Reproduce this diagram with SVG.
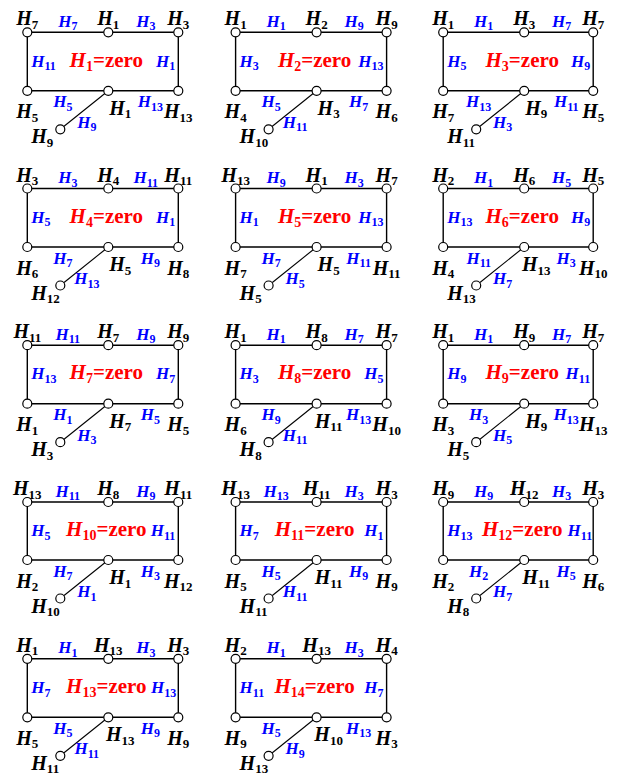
<svg xmlns="http://www.w3.org/2000/svg" width="618" height="781" viewBox="0 0 618 781">
<style>
text{font-family:"Liberation Serif","Times New Roman",serif;font-weight:bold;font-style:italic}
.n{font-size:20px;fill:#000;text-anchor:middle}
.ns{text-anchor:start}
.e{font-size:17px;fill:#0000ff;text-anchor:middle}
.el{text-anchor:start}
.er{text-anchor:end}
.c{font-size:21px;fill:#ff0000;text-anchor:middle}
.s{font-size:13px;font-style:normal}
.e .s{font-size:12px}
.c .s{font-size:14px}
.z{font-style:normal}
.rect{fill:none;stroke:#000;stroke-width:1.4}
.pl{stroke:#000;stroke-width:1.1}
circle{fill:#fff;stroke:#000;stroke-width:1.2}
</style>
<rect width="618" height="781" fill="#fff"/>

<!-- Panel 1 -->
<g id="panel1" transform="translate(27.3,32.3)">
<g id="p1-connectors"><path class="rect" d="M0,0H151V58.5H0Z"/><line class="pl" x1="81" y1="58.5" x2="33" y2="97"/>
<text class="e" x="40.5" y="-5.5">H<tspan class="s" dy="3.5">7</tspan></text><text class="e" x="118.5" y="-5.5">H<tspan class="s" dy="3.5">3</tspan></text>
<text class="e el" x="4" y="34.3">H<tspan class="s" dy="3.5">11</tspan></text><text class="e er" x="148" y="34.3">H<tspan class="s" dy="3.5">1</tspan></text>
<text class="e" x="35.5" y="75">H<tspan class="s" dy="3.5">5</tspan></text><text class="e" x="123" y="75">H<tspan class="s" dy="3.5">13</tspan></text>
<text class="e" x="59.5" y="95.5">H<tspan class="s" dy="3.5">9</tspan></text></g>
<g id="p1-n1"><circle cx="0" cy="0" r="4.5"/><text class="n" x="0" y="-7">H<tspan class="s" dy="3.5">7</tspan></text></g>
<g id="p1-n2"><circle cx="81" cy="0" r="4.5"/><text class="n" x="81" y="-7">H<tspan class="s" dy="3.5">1</tspan></text></g>
<g id="p1-n3"><circle cx="151" cy="0" r="4.5"/><text class="n" x="151" y="-7">H<tspan class="s" dy="3.5">3</tspan></text></g>
<g id="p1-n4"><circle cx="0" cy="58.5" r="4.5"/><text class="n" x="0" y="86">H<tspan class="s" dy="3.5">5</tspan></text></g>
<g id="p1-n5"><circle cx="81" cy="58.5" r="4.5"/><text class="n" x="93" y="82.5">H<tspan class="s" dy="3.5">1</tspan></text></g>
<g id="p1-n6"><circle cx="151" cy="58.5" r="4.5"/><text class="n" x="151" y="86">H<tspan class="s" dy="3.5">13</tspan></text></g>
<g id="p1-n7"><circle cx="33" cy="97" r="4.5"/><text class="n ns" x="4" y="111">H<tspan class="s" dy="3.5">9</tspan></text></g>
<text class="c" x="79" y="34.3">H<tspan class="s" dy="4">1</tspan><tspan class="z" dy="-4">=zero</tspan></text>
</g>

<!-- Panel 2 -->
<g id="panel2" transform="translate(235.6,32.3)">
<g id="p2-connectors"><path class="rect" d="M0,0H151V58.5H0Z"/><line class="pl" x1="81" y1="58.5" x2="33" y2="97"/>
<text class="e" x="40.5" y="-5.5">H<tspan class="s" dy="3.5">1</tspan></text><text class="e" x="118.5" y="-5.5">H<tspan class="s" dy="3.5">9</tspan></text>
<text class="e el" x="4" y="34.3">H<tspan class="s" dy="3.5">3</tspan></text><text class="e er" x="148" y="34.3">H<tspan class="s" dy="3.5">13</tspan></text>
<text class="e" x="35.5" y="75">H<tspan class="s" dy="3.5">5</tspan></text><text class="e" x="123" y="75">H<tspan class="s" dy="3.5">7</tspan></text>
<text class="e" x="59.5" y="95.5">H<tspan class="s" dy="3.5">11</tspan></text></g>
<g id="p2-n1"><circle cx="0" cy="0" r="4.5"/><text class="n" x="0" y="-7">H<tspan class="s" dy="3.5">1</tspan></text></g>
<g id="p2-n2"><circle cx="81" cy="0" r="4.5"/><text class="n" x="81" y="-7">H<tspan class="s" dy="3.5">2</tspan></text></g>
<g id="p2-n3"><circle cx="151" cy="0" r="4.5"/><text class="n" x="151" y="-7">H<tspan class="s" dy="3.5">9</tspan></text></g>
<g id="p2-n4"><circle cx="0" cy="58.5" r="4.5"/><text class="n" x="0" y="86">H<tspan class="s" dy="3.5">4</tspan></text></g>
<g id="p2-n5"><circle cx="81" cy="58.5" r="4.5"/><text class="n" x="93" y="82.5">H<tspan class="s" dy="3.5">3</tspan></text></g>
<g id="p2-n6"><circle cx="151" cy="58.5" r="4.5"/><text class="n" x="151" y="86">H<tspan class="s" dy="3.5">6</tspan></text></g>
<g id="p2-n7"><circle cx="33" cy="97" r="4.5"/><text class="n ns" x="4" y="111">H<tspan class="s" dy="3.5">10</tspan></text></g>
<text class="c" x="79" y="34.3">H<tspan class="s" dy="4">2</tspan><tspan class="z" dy="-4">=zero</tspan></text>
</g>

<!-- Panel 3 -->
<g id="panel3" transform="translate(443.2,32.3)">
<g id="p3-connectors"><path class="rect" d="M0,0H150V58.5H0Z"/><line class="pl" x1="81" y1="58.5" x2="33" y2="97"/>
<text class="e" x="40.5" y="-5.5">H<tspan class="s" dy="3.5">1</tspan></text><text class="e" x="118.5" y="-5.5">H<tspan class="s" dy="3.5">7</tspan></text>
<text class="e el" x="4" y="34.3">H<tspan class="s" dy="3.5">5</tspan></text><text class="e er" x="147" y="34.3">H<tspan class="s" dy="3.5">9</tspan></text>
<text class="e" x="35.5" y="75">H<tspan class="s" dy="3.5">13</tspan></text><text class="e" x="123" y="75">H<tspan class="s" dy="3.5">11</tspan></text>
<text class="e" x="59.5" y="95.5">H<tspan class="s" dy="3.5">3</tspan></text></g>
<g id="p3-n1"><circle cx="0" cy="0" r="4.5"/><text class="n" x="0" y="-7">H<tspan class="s" dy="3.5">1</tspan></text></g>
<g id="p3-n2"><circle cx="81" cy="0" r="4.5"/><text class="n" x="81" y="-7">H<tspan class="s" dy="3.5">3</tspan></text></g>
<g id="p3-n3"><circle cx="150" cy="0" r="4.5"/><text class="n" x="150" y="-7">H<tspan class="s" dy="3.5">7</tspan></text></g>
<g id="p3-n4"><circle cx="0" cy="58.5" r="4.5"/><text class="n" x="0" y="86">H<tspan class="s" dy="3.5">7</tspan></text></g>
<g id="p3-n5"><circle cx="81" cy="58.5" r="4.5"/><text class="n" x="93" y="82.5">H<tspan class="s" dy="3.5">9</tspan></text></g>
<g id="p3-n6"><circle cx="150" cy="58.5" r="4.5"/><text class="n" x="150" y="86">H<tspan class="s" dy="3.5">5</tspan></text></g>
<g id="p3-n7"><circle cx="33" cy="97" r="4.5"/><text class="n ns" x="4" y="111">H<tspan class="s" dy="3.5">11</tspan></text></g>
<text class="c" x="79" y="34.3">H<tspan class="s" dy="4">3</tspan><tspan class="z" dy="-4">=zero</tspan></text>
</g>

<!-- Panel 4 -->
<g id="panel4" transform="translate(27.3,188.5)">
<g id="p4-connectors"><path class="rect" d="M0,0H151V58.5H0Z"/><line class="pl" x1="81" y1="58.5" x2="33" y2="97"/>
<text class="e" x="40.5" y="-5.5">H<tspan class="s" dy="3.5">3</tspan></text><text class="e" x="118.5" y="-5.5">H<tspan class="s" dy="3.5">11</tspan></text>
<text class="e el" x="4" y="34.3">H<tspan class="s" dy="3.5">5</tspan></text><text class="e er" x="148" y="34.3">H<tspan class="s" dy="3.5">1</tspan></text>
<text class="e" x="35.5" y="75">H<tspan class="s" dy="3.5">7</tspan></text><text class="e" x="123" y="75">H<tspan class="s" dy="3.5">9</tspan></text>
<text class="e" x="59.5" y="95.5">H<tspan class="s" dy="3.5">13</tspan></text></g>
<g id="p4-n1"><circle cx="0" cy="0" r="4.5"/><text class="n" x="0" y="-7">H<tspan class="s" dy="3.5">3</tspan></text></g>
<g id="p4-n2"><circle cx="81" cy="0" r="4.5"/><text class="n" x="81" y="-7">H<tspan class="s" dy="3.5">4</tspan></text></g>
<g id="p4-n3"><circle cx="151" cy="0" r="4.5"/><text class="n" x="151" y="-7">H<tspan class="s" dy="3.5">11</tspan></text></g>
<g id="p4-n4"><circle cx="0" cy="58.5" r="4.5"/><text class="n" x="0" y="86">H<tspan class="s" dy="3.5">6</tspan></text></g>
<g id="p4-n5"><circle cx="81" cy="58.5" r="4.5"/><text class="n" x="93" y="82.5">H<tspan class="s" dy="3.5">5</tspan></text></g>
<g id="p4-n6"><circle cx="151" cy="58.5" r="4.5"/><text class="n" x="151" y="86">H<tspan class="s" dy="3.5">8</tspan></text></g>
<g id="p4-n7"><circle cx="33" cy="97" r="4.5"/><text class="n ns" x="4" y="111">H<tspan class="s" dy="3.5">12</tspan></text></g>
<text class="c" x="79" y="34.3">H<tspan class="s" dy="4">4</tspan><tspan class="z" dy="-4">=zero</tspan></text>
</g>

<!-- Panel 5 -->
<g id="panel5" transform="translate(235.6,188.5)">
<g id="p5-connectors"><path class="rect" d="M0,0H151V58.5H0Z"/><line class="pl" x1="81" y1="58.5" x2="33" y2="97"/>
<text class="e" x="40.5" y="-5.5">H<tspan class="s" dy="3.5">9</tspan></text><text class="e" x="118.5" y="-5.5">H<tspan class="s" dy="3.5">3</tspan></text>
<text class="e el" x="4" y="34.3">H<tspan class="s" dy="3.5">1</tspan></text><text class="e er" x="148" y="34.3">H<tspan class="s" dy="3.5">13</tspan></text>
<text class="e" x="35.5" y="75">H<tspan class="s" dy="3.5">7</tspan></text><text class="e" x="123" y="75">H<tspan class="s" dy="3.5">11</tspan></text>
<text class="e" x="59.5" y="95.5">H<tspan class="s" dy="3.5">5</tspan></text></g>
<g id="p5-n1"><circle cx="0" cy="0" r="4.5"/><text class="n" x="0" y="-7">H<tspan class="s" dy="3.5">13</tspan></text></g>
<g id="p5-n2"><circle cx="81" cy="0" r="4.5"/><text class="n" x="81" y="-7">H<tspan class="s" dy="3.5">1</tspan></text></g>
<g id="p5-n3"><circle cx="151" cy="0" r="4.5"/><text class="n" x="151" y="-7">H<tspan class="s" dy="3.5">7</tspan></text></g>
<g id="p5-n4"><circle cx="0" cy="58.5" r="4.5"/><text class="n" x="0" y="86">H<tspan class="s" dy="3.5">7</tspan></text></g>
<g id="p5-n5"><circle cx="81" cy="58.5" r="4.5"/><text class="n" x="93" y="82.5">H<tspan class="s" dy="3.5">5</tspan></text></g>
<g id="p5-n6"><circle cx="151" cy="58.5" r="4.5"/><text class="n" x="151" y="86">H<tspan class="s" dy="3.5">11</tspan></text></g>
<g id="p5-n7"><circle cx="33" cy="97" r="4.5"/><text class="n ns" x="4" y="111">H<tspan class="s" dy="3.5">5</tspan></text></g>
<text class="c" x="79" y="34.3">H<tspan class="s" dy="4">5</tspan><tspan class="z" dy="-4">=zero</tspan></text>
</g>

<!-- Panel 6 -->
<g id="panel6" transform="translate(443.2,188.5)">
<g id="p6-connectors"><path class="rect" d="M0,0H150V58.5H0Z"/><line class="pl" x1="81" y1="58.5" x2="33" y2="97"/>
<text class="e" x="40.5" y="-5.5">H<tspan class="s" dy="3.5">1</tspan></text><text class="e" x="118.5" y="-5.5">H<tspan class="s" dy="3.5">5</tspan></text>
<text class="e el" x="4" y="34.3">H<tspan class="s" dy="3.5">13</tspan></text><text class="e er" x="147" y="34.3">H<tspan class="s" dy="3.5">9</tspan></text>
<text class="e" x="35.5" y="75">H<tspan class="s" dy="3.5">11</tspan></text><text class="e" x="123" y="75">H<tspan class="s" dy="3.5">3</tspan></text>
<text class="e" x="59.5" y="95.5">H<tspan class="s" dy="3.5">7</tspan></text></g>
<g id="p6-n1"><circle cx="0" cy="0" r="4.5"/><text class="n" x="0" y="-7">H<tspan class="s" dy="3.5">2</tspan></text></g>
<g id="p6-n2"><circle cx="81" cy="0" r="4.5"/><text class="n" x="81" y="-7">H<tspan class="s" dy="3.5">6</tspan></text></g>
<g id="p6-n3"><circle cx="150" cy="0" r="4.5"/><text class="n" x="150" y="-7">H<tspan class="s" dy="3.5">5</tspan></text></g>
<g id="p6-n4"><circle cx="0" cy="58.5" r="4.5"/><text class="n" x="0" y="86">H<tspan class="s" dy="3.5">4</tspan></text></g>
<g id="p6-n5"><circle cx="81" cy="58.5" r="4.5"/><text class="n" x="93" y="82.5">H<tspan class="s" dy="3.5">13</tspan></text></g>
<g id="p6-n6"><circle cx="150" cy="58.5" r="4.5"/><text class="n" x="150" y="86">H<tspan class="s" dy="3.5">10</tspan></text></g>
<g id="p6-n7"><circle cx="33" cy="97" r="4.5"/><text class="n ns" x="4" y="111">H<tspan class="s" dy="3.5">13</tspan></text></g>
<text class="c" x="79" y="34.3">H<tspan class="s" dy="4">6</tspan><tspan class="z" dy="-4">=zero</tspan></text>
</g>

<!-- Panel 7 -->
<g id="panel7" transform="translate(27.3,345.2)">
<g id="p7-connectors"><path class="rect" d="M0,0H151V58.5H0Z"/><line class="pl" x1="81" y1="58.5" x2="33" y2="97"/>
<text class="e" x="40.5" y="-5.5">H<tspan class="s" dy="3.5">11</tspan></text><text class="e" x="118.5" y="-5.5">H<tspan class="s" dy="3.5">9</tspan></text>
<text class="e el" x="4" y="34.3">H<tspan class="s" dy="3.5">13</tspan></text><text class="e er" x="148" y="34.3">H<tspan class="s" dy="3.5">7</tspan></text>
<text class="e" x="35.5" y="75">H<tspan class="s" dy="3.5">1</tspan></text><text class="e" x="123" y="75">H<tspan class="s" dy="3.5">5</tspan></text>
<text class="e" x="59.5" y="95.5">H<tspan class="s" dy="3.5">3</tspan></text></g>
<g id="p7-n1"><circle cx="0" cy="0" r="4.5"/><text class="n" x="0" y="-7">H<tspan class="s" dy="3.5">11</tspan></text></g>
<g id="p7-n2"><circle cx="81" cy="0" r="4.5"/><text class="n" x="81" y="-7">H<tspan class="s" dy="3.5">7</tspan></text></g>
<g id="p7-n3"><circle cx="151" cy="0" r="4.5"/><text class="n" x="151" y="-7">H<tspan class="s" dy="3.5">9</tspan></text></g>
<g id="p7-n4"><circle cx="0" cy="58.5" r="4.5"/><text class="n" x="0" y="86">H<tspan class="s" dy="3.5">1</tspan></text></g>
<g id="p7-n5"><circle cx="81" cy="58.5" r="4.5"/><text class="n" x="93" y="82.5">H<tspan class="s" dy="3.5">7</tspan></text></g>
<g id="p7-n6"><circle cx="151" cy="58.5" r="4.5"/><text class="n" x="151" y="86">H<tspan class="s" dy="3.5">5</tspan></text></g>
<g id="p7-n7"><circle cx="33" cy="97" r="4.5"/><text class="n ns" x="4" y="111">H<tspan class="s" dy="3.5">3</tspan></text></g>
<text class="c" x="79" y="34.3">H<tspan class="s" dy="4">7</tspan><tspan class="z" dy="-4">=zero</tspan></text>
</g>

<!-- Panel 8 -->
<g id="panel8" transform="translate(235.6,345.2)">
<g id="p8-connectors"><path class="rect" d="M0,0H151V58.5H0Z"/><line class="pl" x1="81" y1="58.5" x2="33" y2="97"/>
<text class="e" x="40.5" y="-5.5">H<tspan class="s" dy="3.5">1</tspan></text><text class="e" x="118.5" y="-5.5">H<tspan class="s" dy="3.5">7</tspan></text>
<text class="e el" x="4" y="34.3">H<tspan class="s" dy="3.5">3</tspan></text><text class="e er" x="148" y="34.3">H<tspan class="s" dy="3.5">5</tspan></text>
<text class="e" x="35.5" y="75">H<tspan class="s" dy="3.5">9</tspan></text><text class="e" x="123" y="75">H<tspan class="s" dy="3.5">13</tspan></text>
<text class="e" x="59.5" y="95.5">H<tspan class="s" dy="3.5">11</tspan></text></g>
<g id="p8-n1"><circle cx="0" cy="0" r="4.5"/><text class="n" x="0" y="-7">H<tspan class="s" dy="3.5">1</tspan></text></g>
<g id="p8-n2"><circle cx="81" cy="0" r="4.5"/><text class="n" x="81" y="-7">H<tspan class="s" dy="3.5">8</tspan></text></g>
<g id="p8-n3"><circle cx="151" cy="0" r="4.5"/><text class="n" x="151" y="-7">H<tspan class="s" dy="3.5">7</tspan></text></g>
<g id="p8-n4"><circle cx="0" cy="58.5" r="4.5"/><text class="n" x="0" y="86">H<tspan class="s" dy="3.5">6</tspan></text></g>
<g id="p8-n5"><circle cx="81" cy="58.5" r="4.5"/><text class="n" x="93" y="82.5">H<tspan class="s" dy="3.5">11</tspan></text></g>
<g id="p8-n6"><circle cx="151" cy="58.5" r="4.5"/><text class="n" x="151" y="86">H<tspan class="s" dy="3.5">10</tspan></text></g>
<g id="p8-n7"><circle cx="33" cy="97" r="4.5"/><text class="n ns" x="4" y="111">H<tspan class="s" dy="3.5">8</tspan></text></g>
<text class="c" x="79" y="34.3">H<tspan class="s" dy="4">8</tspan><tspan class="z" dy="-4">=zero</tspan></text>
</g>

<!-- Panel 9 -->
<g id="panel9" transform="translate(443.2,345.2)">
<g id="p9-connectors"><path class="rect" d="M0,0H150V58.5H0Z"/><line class="pl" x1="81" y1="58.5" x2="33" y2="97"/>
<text class="e" x="40.5" y="-5.5">H<tspan class="s" dy="3.5">1</tspan></text><text class="e" x="118.5" y="-5.5">H<tspan class="s" dy="3.5">7</tspan></text>
<text class="e el" x="4" y="34.3">H<tspan class="s" dy="3.5">9</tspan></text><text class="e er" x="147" y="34.3">H<tspan class="s" dy="3.5">11</tspan></text>
<text class="e" x="35.5" y="75">H<tspan class="s" dy="3.5">3</tspan></text><text class="e" x="123" y="75">H<tspan class="s" dy="3.5">13</tspan></text>
<text class="e" x="59.5" y="95.5">H<tspan class="s" dy="3.5">5</tspan></text></g>
<g id="p9-n1"><circle cx="0" cy="0" r="4.5"/><text class="n" x="0" y="-7">H<tspan class="s" dy="3.5">1</tspan></text></g>
<g id="p9-n2"><circle cx="81" cy="0" r="4.5"/><text class="n" x="81" y="-7">H<tspan class="s" dy="3.5">9</tspan></text></g>
<g id="p9-n3"><circle cx="150" cy="0" r="4.5"/><text class="n" x="150" y="-7">H<tspan class="s" dy="3.5">7</tspan></text></g>
<g id="p9-n4"><circle cx="0" cy="58.5" r="4.5"/><text class="n" x="0" y="86">H<tspan class="s" dy="3.5">3</tspan></text></g>
<g id="p9-n5"><circle cx="81" cy="58.5" r="4.5"/><text class="n" x="93" y="82.5">H<tspan class="s" dy="3.5">9</tspan></text></g>
<g id="p9-n6"><circle cx="150" cy="58.5" r="4.5"/><text class="n" x="150" y="86">H<tspan class="s" dy="3.5">13</tspan></text></g>
<g id="p9-n7"><circle cx="33" cy="97" r="4.5"/><text class="n ns" x="4" y="111">H<tspan class="s" dy="3.5">5</tspan></text></g>
<text class="c" x="79" y="34.3">H<tspan class="s" dy="4">9</tspan><tspan class="z" dy="-4">=zero</tspan></text>
</g>

<!-- Panel 10 -->
<g id="panel10" transform="translate(27.3,502)">
<g id="p10-connectors"><path class="rect" d="M0,0H151V58H0Z"/><line class="pl" x1="81" y1="58" x2="33" y2="96.5"/>
<text class="e" x="40.5" y="-5.5">H<tspan class="s" dy="3.5">11</tspan></text><text class="e" x="118.5" y="-5.5">H<tspan class="s" dy="3.5">9</tspan></text>
<text class="e el" x="4" y="34">H<tspan class="s" dy="3.5">5</tspan></text><text class="e er" x="148" y="34">H<tspan class="s" dy="3.5">11</tspan></text>
<text class="e" x="35.5" y="74.5">H<tspan class="s" dy="3.5">7</tspan></text><text class="e" x="123" y="74.5">H<tspan class="s" dy="3.5">3</tspan></text>
<text class="e" x="59.5" y="95">H<tspan class="s" dy="3.5">1</tspan></text></g>
<g id="p10-n1"><circle cx="0" cy="0" r="4.5"/><text class="n" x="0" y="-7">H<tspan class="s" dy="3.5">13</tspan></text></g>
<g id="p10-n2"><circle cx="81" cy="0" r="4.5"/><text class="n" x="81" y="-7">H<tspan class="s" dy="3.5">8</tspan></text></g>
<g id="p10-n3"><circle cx="151" cy="0" r="4.5"/><text class="n" x="151" y="-7">H<tspan class="s" dy="3.5">11</tspan></text></g>
<g id="p10-n4"><circle cx="0" cy="58" r="4.5"/><text class="n" x="0" y="85.5">H<tspan class="s" dy="3.5">2</tspan></text></g>
<g id="p10-n5"><circle cx="81" cy="58" r="4.5"/><text class="n" x="93" y="82">H<tspan class="s" dy="3.5">1</tspan></text></g>
<g id="p10-n6"><circle cx="151" cy="58" r="4.5"/><text class="n" x="151" y="85.5">H<tspan class="s" dy="3.5">12</tspan></text></g>
<g id="p10-n7"><circle cx="33" cy="96.5" r="4.5"/><text class="n ns" x="4" y="110.5">H<tspan class="s" dy="3.5">10</tspan></text></g>
<text class="c" x="79" y="34">H<tspan class="s" dy="4">10</tspan><tspan class="z" dy="-4">=zero</tspan></text>
</g>

<!-- Panel 11 -->
<g id="panel11" transform="translate(235.6,502)">
<g id="p11-connectors"><path class="rect" d="M0,0H151V58H0Z"/><line class="pl" x1="81" y1="58" x2="33" y2="96.5"/>
<text class="e" x="40.5" y="-5.5">H<tspan class="s" dy="3.5">13</tspan></text><text class="e" x="118.5" y="-5.5">H<tspan class="s" dy="3.5">3</tspan></text>
<text class="e el" x="4" y="34">H<tspan class="s" dy="3.5">7</tspan></text><text class="e er" x="148" y="34">H<tspan class="s" dy="3.5">1</tspan></text>
<text class="e" x="35.5" y="74.5">H<tspan class="s" dy="3.5">5</tspan></text><text class="e" x="123" y="74.5">H<tspan class="s" dy="3.5">9</tspan></text>
<text class="e" x="59.5" y="95">H<tspan class="s" dy="3.5">11</tspan></text></g>
<g id="p11-n1"><circle cx="0" cy="0" r="4.5"/><text class="n" x="0" y="-7">H<tspan class="s" dy="3.5">13</tspan></text></g>
<g id="p11-n2"><circle cx="81" cy="0" r="4.5"/><text class="n" x="81" y="-7">H<tspan class="s" dy="3.5">11</tspan></text></g>
<g id="p11-n3"><circle cx="151" cy="0" r="4.5"/><text class="n" x="151" y="-7">H<tspan class="s" dy="3.5">3</tspan></text></g>
<g id="p11-n4"><circle cx="0" cy="58" r="4.5"/><text class="n" x="0" y="85.5">H<tspan class="s" dy="3.5">5</tspan></text></g>
<g id="p11-n5"><circle cx="81" cy="58" r="4.5"/><text class="n" x="93" y="82">H<tspan class="s" dy="3.5">11</tspan></text></g>
<g id="p11-n6"><circle cx="151" cy="58" r="4.5"/><text class="n" x="151" y="85.5">H<tspan class="s" dy="3.5">9</tspan></text></g>
<g id="p11-n7"><circle cx="33" cy="96.5" r="4.5"/><text class="n ns" x="4" y="110.5">H<tspan class="s" dy="3.5">11</tspan></text></g>
<text class="c" x="79" y="34">H<tspan class="s" dy="4">11</tspan><tspan class="z" dy="-4">=zero</tspan></text>
</g>

<!-- Panel 12 -->
<g id="panel12" transform="translate(443.2,502)">
<g id="p12-connectors"><path class="rect" d="M0,0H150V58H0Z"/><line class="pl" x1="81" y1="58" x2="33" y2="96.5"/>
<text class="e" x="40.5" y="-5.5">H<tspan class="s" dy="3.5">9</tspan></text><text class="e" x="118.5" y="-5.5">H<tspan class="s" dy="3.5">3</tspan></text>
<text class="e el" x="4" y="34">H<tspan class="s" dy="3.5">13</tspan></text><text class="e er" x="149" y="34">H<tspan class="s" dy="3.5">11</tspan></text>
<text class="e" x="35.5" y="74.5">H<tspan class="s" dy="3.5">2</tspan></text><text class="e" x="123" y="74.5">H<tspan class="s" dy="3.5">5</tspan></text>
<text class="e" x="59.5" y="95">H<tspan class="s" dy="3.5">7</tspan></text></g>
<g id="p12-n1"><circle cx="0" cy="0" r="4.5"/><text class="n" x="0" y="-7">H<tspan class="s" dy="3.5">9</tspan></text></g>
<g id="p12-n2"><circle cx="81" cy="0" r="4.5"/><text class="n" x="81" y="-7">H<tspan class="s" dy="3.5">12</tspan></text></g>
<g id="p12-n3"><circle cx="150" cy="0" r="4.5"/><text class="n" x="150" y="-7">H<tspan class="s" dy="3.5">3</tspan></text></g>
<g id="p12-n4"><circle cx="0" cy="58" r="4.5"/><text class="n" x="0" y="85.5">H<tspan class="s" dy="3.5">2</tspan></text></g>
<g id="p12-n5"><circle cx="81" cy="58" r="4.5"/><text class="n" x="93" y="82">H<tspan class="s" dy="3.5">11</tspan></text></g>
<g id="p12-n6"><circle cx="150" cy="58" r="4.5"/><text class="n" x="150" y="85.5">H<tspan class="s" dy="3.5">6</tspan></text></g>
<g id="p12-n7"><circle cx="33" cy="96.5" r="4.5"/><text class="n ns" x="4" y="110.5">H<tspan class="s" dy="3.5">8</tspan></text></g>
<text class="c" x="79" y="34">H<tspan class="s" dy="4">12</tspan><tspan class="z" dy="-4">=zero</tspan></text>
</g>

<!-- Panel 13 -->
<g id="panel13" transform="translate(27.3,658.8)">
<g id="p13-connectors"><path class="rect" d="M0,0H151V58.5H0Z"/><line class="pl" x1="81" y1="58.5" x2="33" y2="97"/>
<text class="e" x="40.5" y="-5.5">H<tspan class="s" dy="3.5">1</tspan></text><text class="e" x="118.5" y="-5.5">H<tspan class="s" dy="3.5">3</tspan></text>
<text class="e el" x="4" y="34.3">H<tspan class="s" dy="3.5">7</tspan></text><text class="e er" x="149" y="34.3">H<tspan class="s" dy="3.5">13</tspan></text>
<text class="e" x="35.5" y="75">H<tspan class="s" dy="3.5">5</tspan></text><text class="e" x="123" y="75">H<tspan class="s" dy="3.5">9</tspan></text>
<text class="e" x="59.5" y="95.5">H<tspan class="s" dy="3.5">11</tspan></text></g>
<g id="p13-n1"><circle cx="0" cy="0" r="4.5"/><text class="n" x="0" y="-7">H<tspan class="s" dy="3.5">1</tspan></text></g>
<g id="p13-n2"><circle cx="81" cy="0" r="4.5"/><text class="n" x="81" y="-7">H<tspan class="s" dy="3.5">13</tspan></text></g>
<g id="p13-n3"><circle cx="151" cy="0" r="4.5"/><text class="n" x="151" y="-7">H<tspan class="s" dy="3.5">3</tspan></text></g>
<g id="p13-n4"><circle cx="0" cy="58.5" r="4.5"/><text class="n" x="0" y="86">H<tspan class="s" dy="3.5">5</tspan></text></g>
<g id="p13-n5"><circle cx="81" cy="58.5" r="4.5"/><text class="n" x="93" y="82.5">H<tspan class="s" dy="3.5">13</tspan></text></g>
<g id="p13-n6"><circle cx="151" cy="58.5" r="4.5"/><text class="n" x="151" y="86">H<tspan class="s" dy="3.5">9</tspan></text></g>
<g id="p13-n7"><circle cx="33" cy="97" r="4.5"/><text class="n ns" x="4" y="111">H<tspan class="s" dy="3.5">11</tspan></text></g>
<text class="c" x="79" y="34.3">H<tspan class="s" dy="4">13</tspan><tspan class="z" dy="-4">=zero</tspan></text>
</g>

<!-- Panel 14 -->
<g id="panel14" transform="translate(235.6,658.8)">
<g id="p14-connectors"><path class="rect" d="M0,0H151V58.5H0Z"/><line class="pl" x1="81" y1="58.5" x2="33" y2="97"/>
<text class="e" x="40.5" y="-5.5">H<tspan class="s" dy="3.5">1</tspan></text><text class="e" x="118.5" y="-5.5">H<tspan class="s" dy="3.5">3</tspan></text>
<text class="e el" x="4" y="34.3">H<tspan class="s" dy="3.5">11</tspan></text><text class="e er" x="148" y="34.3">H<tspan class="s" dy="3.5">7</tspan></text>
<text class="e" x="35.5" y="75">H<tspan class="s" dy="3.5">5</tspan></text><text class="e" x="123" y="75">H<tspan class="s" dy="3.5">13</tspan></text>
<text class="e" x="59.5" y="95.5">H<tspan class="s" dy="3.5">9</tspan></text></g>
<g id="p14-n1"><circle cx="0" cy="0" r="4.5"/><text class="n" x="0" y="-7">H<tspan class="s" dy="3.5">2</tspan></text></g>
<g id="p14-n2"><circle cx="81" cy="0" r="4.5"/><text class="n" x="81" y="-7">H<tspan class="s" dy="3.5">13</tspan></text></g>
<g id="p14-n3"><circle cx="151" cy="0" r="4.5"/><text class="n" x="151" y="-7">H<tspan class="s" dy="3.5">4</tspan></text></g>
<g id="p14-n4"><circle cx="0" cy="58.5" r="4.5"/><text class="n" x="0" y="86">H<tspan class="s" dy="3.5">9</tspan></text></g>
<g id="p14-n5"><circle cx="81" cy="58.5" r="4.5"/><text class="n" x="93" y="82.5">H<tspan class="s" dy="3.5">10</tspan></text></g>
<g id="p14-n6"><circle cx="151" cy="58.5" r="4.5"/><text class="n" x="151" y="86">H<tspan class="s" dy="3.5">3</tspan></text></g>
<g id="p14-n7"><circle cx="33" cy="97" r="4.5"/><text class="n ns" x="4" y="111">H<tspan class="s" dy="3.5">13</tspan></text></g>
<text class="c" x="79" y="34.3">H<tspan class="s" dy="4">14</tspan><tspan class="z" dy="-4">=zero</tspan></text>
</g>
</svg>
